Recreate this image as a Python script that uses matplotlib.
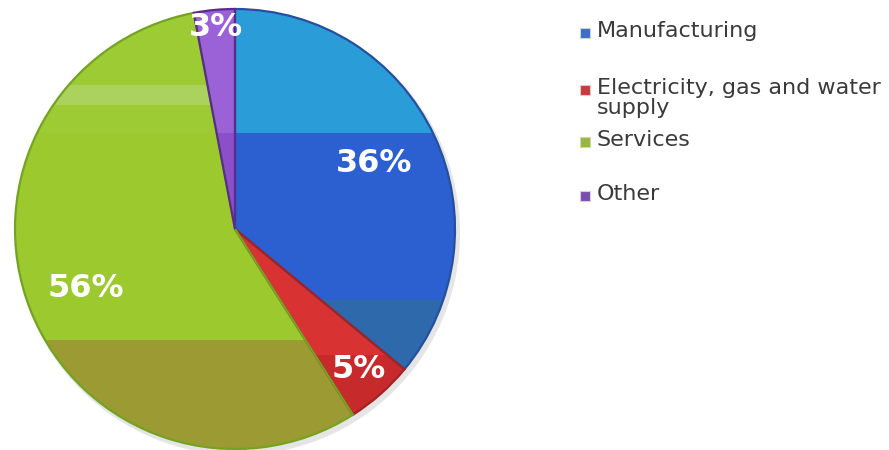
import numpy as np
import matplotlib.pyplot as plt
from matplotlib.patches import Rectangle, Wedge, Circle

# data
labels = ['Manufacturing', 'Electricity, gas and water\nsupply', 'Services', 'Other']
shares = [36, 5, 56, 3]
pct_labels = ['36%', '5%', '56%', '3%']

# colours (mid band, top band, low band, outline, legend box)
base_colors = ['#2c5fcf', '#d83232', '#9bc92e', '#8c4fc9']
top_colors = ['#2a9dd9', '#de3a3a', '#9dcb34', '#9a62d6']
low_colors = ['#2e69ab', '#c62a2a', '#9c9a33', '#7a45b0']
edge_colors = ['#24509e', '#a52222', '#74a324', '#5a2a90']
legend_colors = ['#3a6fc4', '#c83a3a', '#97b83a', '#7a4cb0']

W, H = 889, 450
cx, cy, R = 235, H - 229, 220

fig = plt.figure(figsize=(8.89, 4.5), dpi=100)
ax = fig.add_axes([0, 0, 1, 1])

# soft shadow
ax.add_patch(Circle((cx + 3, cy - 4), R + 2, color='#999999', alpha=0.25, lw=0, zorder=0))

wedges, _ = ax.pie(shares, startangle=90, counterclock=False, center=(cx, cy),
                   radius=R, colors=base_colors, wedgeprops=dict(lw=0))

low_start = [300, 355, 340, 450]  # image y where the darker band begins
for i, w in enumerate(wedges):
    w.set_zorder(1)
    top = Rectangle((0, H - 133), W, 133, color=top_colors[i], lw=0, zorder=2)
    top.set_clip_path(w)
    ax.add_patch(top)
    low = Rectangle((0, 0), W, H - low_start[i], color=low_colors[i], lw=0, zorder=2)
    low.set_clip_path(w)
    ax.add_patch(low)
    if i == 2:
        strip = Rectangle((0, H - 105), W, 20, color='#b4d877', alpha=0.6, lw=0, zorder=2)
        strip.set_clip_path(w)
        ax.add_patch(strip)
    ax.add_patch(Wedge((cx, cy), R, w.theta1, w.theta2, fc='none',
                       ec=edge_colors[i], lw=1.6, zorder=3))

# percentage labels
label_r = [0.70, 0.85, 0.73, 0.92]
for i, w in enumerate(wedges):
    ang = np.deg2rad((w.theta1 + w.theta2) / 2)
    ax.text(cx + label_r[i] * R * np.cos(ang), cy + label_r[i] * R * np.sin(ang),
            pct_labels[i], color='white', fontsize=23, fontweight='bold',
            ha='center', va='center', zorder=4)

# legend
legend_y = [33, 90, 142, 196]
for i, lab in enumerate(labels):
    y = H - legend_y[i]
    ax.add_patch(Rectangle((580, y - 5), 10, 10, fc=legend_colors[i],
                           ec='#d0d0d0', lw=0.8, zorder=4))
    ax.text(597, y + 12, lab, fontsize=16, color='#3a3a3a', ha='left', va='top',
            linespacing=1.0, zorder=4)

ax.set_xlim(0, W)
ax.set_ylim(0, H)
ax.set_aspect('equal')
ax.axis('off')

fig.savefig('out.png', dpi=100)
